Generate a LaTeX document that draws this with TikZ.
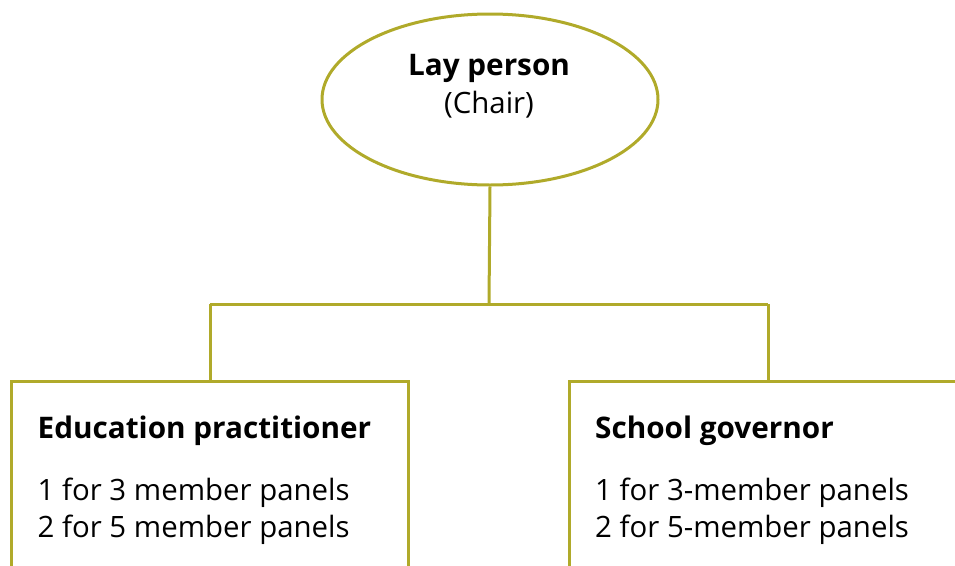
\documentclass[tikz,border=0pt]{standalone}
\usepackage{fontspec}
\setmainfont{Open Sans}
\usetikzlibrary{shapes.geometric, positioning}
\definecolor{olivegreen}{RGB}{176,170,42}
\tikzset{
  link/.style = {draw=olivegreen, line width=3pt},
  headtext/.style = {font=\fontsize{29.7}{34}\selectfont\bfseries, inner sep=0pt},
  bodytext/.style = {font=\fontsize{29.4}{36.5}\selectfont, inner sep=0pt, align=left},
  panelbox/.style = {minimum width=396pt, minimum height=230pt, inner sep=0pt, anchor=north}
}
\begin{document}
\begin{tikzpicture}[x=1pt, y=-1pt]
\clip (0,0) rectangle (955,565);
\node[ellipse, link, minimum width=336pt, minimum height=171pt] (chair) at (490,99.5) {};
\node at (489,75) [anchor=base, headtext] (chairtitle) {Lay person};
\node at (489,113) [anchor=base, bodytext] (chairnote) {(Chair)};
\node[panelbox] (edu) at (210,381) {};
\node[panelbox] (gov) at (768,381) {};
\coordinate (split) at (489,304);
\draw[link] (chair.south) -- (split);
\draw[link] (split -| edu.north) -- (split -| gov.north);
\draw[link] (split -| edu.north) -- (edu.north);
\draw[link] (split -| gov.north) -- (gov.north);
\draw[link] (edu.south west) -- (edu.north west) -- (edu.north east) -- (edu.south east);
\draw[link] (gov.south west) -- (gov.north west) -- (gov.north east) -- (gov.south east);
% panel texts
\node at (37.5,438) [anchor=base west, headtext] (edutitle) {Education practitioner};
\node at (37.5,537) [anchor=base west, bodytext] (edunote) {1 for 3 member panels\\2 for 5 member panels};
\node at (595,438) [anchor=base west, headtext] (govtitle) {School governor};
\node at (595,537) [anchor=base west, bodytext] (govnote) {1 for 3-member panels\\2 for 5-member panels};
\end{tikzpicture}
\end{document}
